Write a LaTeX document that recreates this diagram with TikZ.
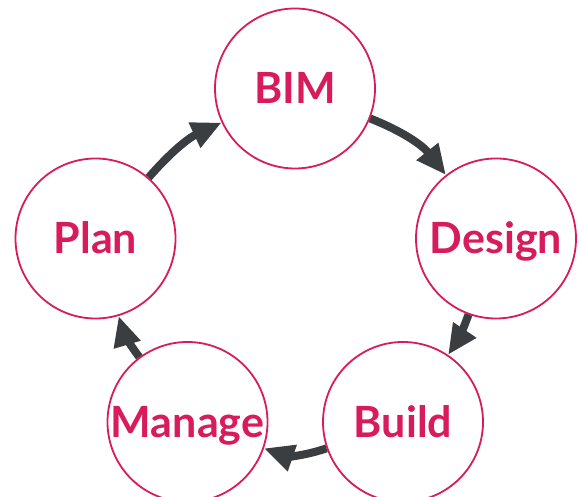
\documentclass[tikz,border=0pt]{standalone}
\usepackage{fontspec}
\setmainfont{Lato}
\usetikzlibrary{arrows.meta}
\definecolor{myRed}{HTML}{D81B5A}
\definecolor{myGray}{HTML}{3B3E41}

\begin{document}
\begin{tikzpicture}[x=1pt, y=1pt, >={Triangle[length=30pt,width=26pt]}, line width=8pt, ->, myGray]

  \tikzstyle{S}=[circle, draw=myRed, line width=1.8pt, fill=white, text=myRed, minimum size=160pt, inner sep=0pt, text height=31pt, text depth=0pt, font=\fontsize{43}{43}\selectfont\bfseries]

  \useasboundingbox (0,0) rectangle (581,497);

  \node[S] at (295,408.5) (bim) {BIM};
  \node[S] at (496,258.5) (design) {Design};
  \node[S] at (403,75) (build) {Build};
  \node[S] at (187.5,75) (manage) {Manage};
  \node[S] at (95.5,258.5) (plan) {Plan};

  \draw (plan) to[bend left=12] (bim);
  \draw (bim) to[bend left=15] (design);
  \draw (design) to[bend left=7] (build);
  \draw (build) to[bend left=19] (manage);
  \draw (manage) to[bend left=10] (plan);

\end{tikzpicture}
\end{document}
